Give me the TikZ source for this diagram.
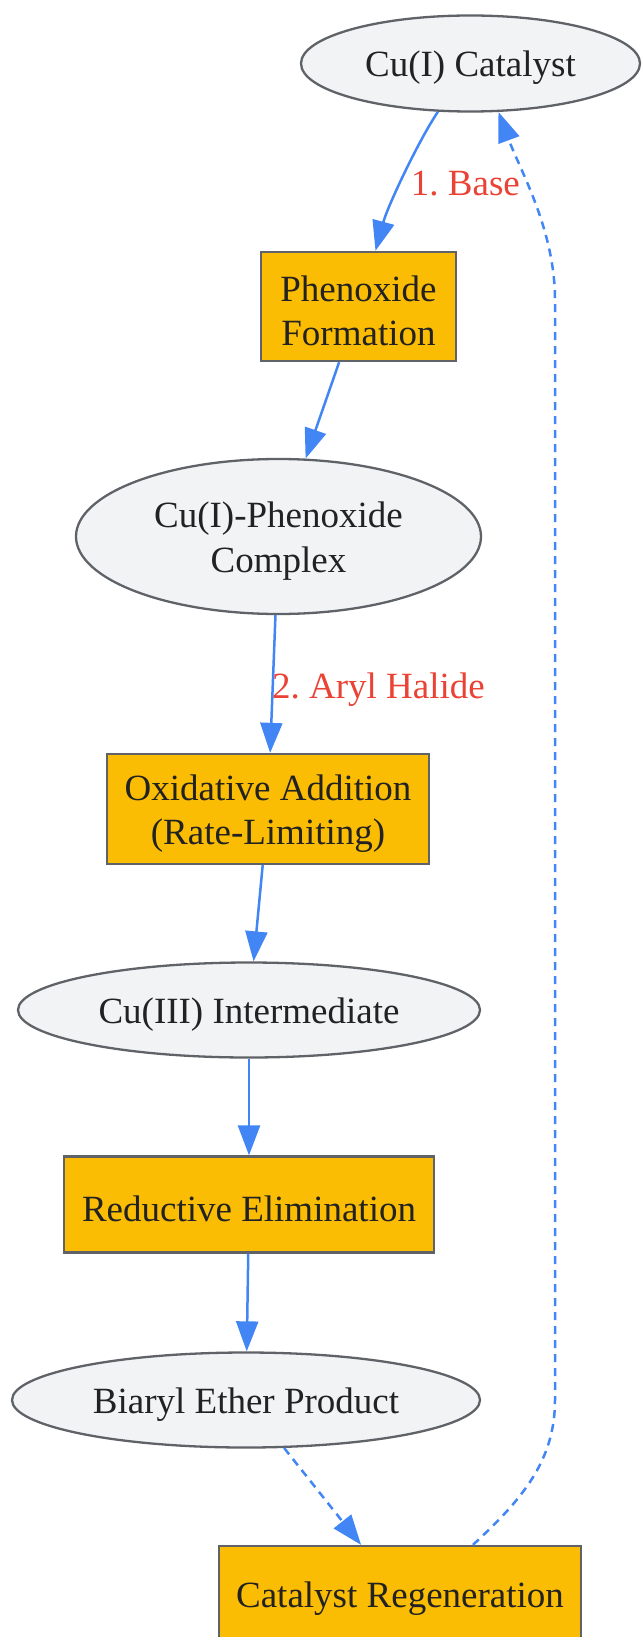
\documentclass[tikz,border=0pt]{standalone}
\usepackage{fontspec}
\setmainfont{Liberation Serif}
\usetikzlibrary{shapes.geometric,arrows.meta}
\definecolor{ellfill}{HTML}{F1F3F4}
\definecolor{bordergray}{HTML}{5F6368}
\definecolor{boxfill}{HTML}{FBBC04}
\definecolor{edgeblue}{HTML}{4285F4}
\definecolor{lblred}{HTML}{EA4335}
\definecolor{txt}{HTML}{222222}
\frenchspacing
\tikzset{
  base/.style={draw=bordergray, line width=2.3pt, inner sep=0pt},
  ell/.style={base, ellipse, fill=ellfill},
  box/.style={base, rectangle, fill=boxfill},
  nodetext/.style={text=txt, inner sep=0pt, align=center, yshift=-4.5pt,
    font=\fontsize{37}{44.4}\selectfont},
  edge/.style={draw=edgeblue, line width=2.5pt, -{Triangle[length=30pt,width=22pt]}},
  dashedge/.style={edge, dash pattern=on 8pt off 6pt},
  lbl/.style={text=lblred, font=\fontsize{37}{44.4}\selectfont, inner sep=0pt}
}
\begin{document}
\begin{tikzpicture}[x=1pt,y=-1pt]
\useasboundingbox (0,0) rectangle (641,1637);
\node[ell, minimum width=339pt, minimum height=96pt, label={[nodetext]center:Cu(I) Catalyst}] (cat) at (470.5,63.5) {};
\node[box, minimum width=195pt, minimum height=109pt, label={[nodetext]center:Phenoxide\\Formation}] (pf) at (358.5,306.5) {};
\node[ell, minimum width=405pt, minimum height=155pt, label={[nodetext]center:Cu(I)-Phenoxide\\Complex}] (pc) at (278.5,536.5) {};
\node[box, minimum width=322pt, minimum height=110pt, label={[nodetext]center:Oxidative Addition\\(Rate-Limiting)}] (oa) at (268,809) {};
\node[ell, minimum width=462pt, minimum height=95pt, label={[nodetext]center:Cu(III) Intermediate}] (c3) at (249,1010) {};
\node[box, minimum width=370pt, minimum height=96pt, label={[nodetext]center:Reductive Elimination}] (re) at (249,1204.5) {};
\node[ell, minimum width=468pt, minimum height=95pt, label={[nodetext]center:Biaryl Ether Product}] (ba) at (246,1400) {};
\node[box, minimum width=362pt, minimum height=96pt, label={[nodetext]center:Catalyst Regeneration}] (cr) at (400,1594) {};

\draw[edge] (cat.-124) .. controls (420,138) and (388,205) .. node[lbl, pos=0.5, anchor=west, xshift=5pt, yshift=-10pt] {1. Base} (pf.73);
\draw[edge] (pf) -- (pc);
\draw[edge] (pc) -- node[lbl, pos=0.5, anchor=west, xshift=-2pt, yshift=-6pt] {2. Aryl Halide} (oa);
\draw[edge] (oa) -- (c3);
\draw[edge] (c3) -- (re);
\draw[edge] (re) -- (ba);
\draw[dashedge] (ba) -- (cr);
\coordinate (r1) at (555,1400);
\coordinate (r2) at (555,300);
\draw[dashedge] (cr.34.4) .. controls +(50,-46) and (555,1460) .. (r1) -- (r2) .. controls (555,230) and (520,170) .. (cat.-60);
\end{tikzpicture}
\end{document}
